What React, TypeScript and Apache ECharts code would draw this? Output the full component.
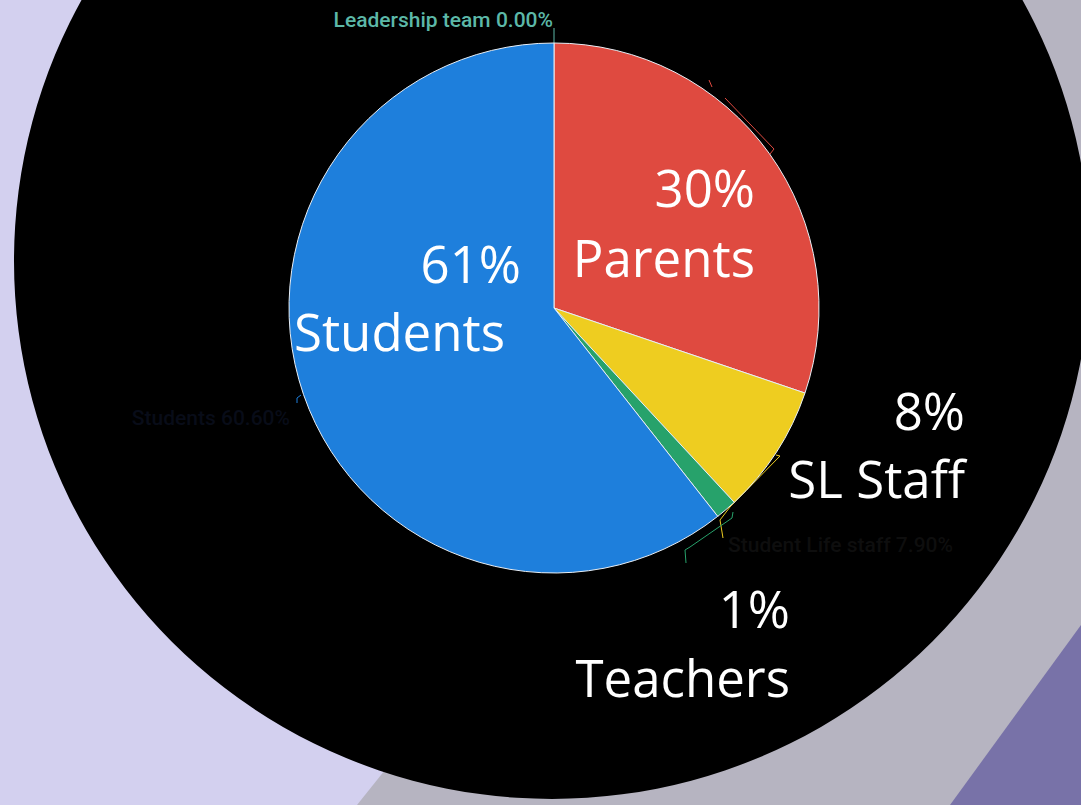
import React, { useEffect, useRef } from "react";
import * as echarts from "echarts";

// ---- data ----
const categories = ["Leadership team", "Parents", "Student Life staff", "Teachers", "Students"];
const values = [0, 30.2, 7.9, 1.3, 60.6];
const sliceColors = ["#5cb8a8", "#df4a40", "#eecd20", "#27a26b", "#1e7fdc"];
const labelColors = ["#5cb8a8", "#000000", "#0e0e0e", "#000000", "#080c18"];
const labelHidden = [false, true, false, true, false];

// overlay slide annotations
const overlayPercents = ["30%", "61%", "8%", "1%"];
const overlayNames = ["Parents", "Students", "SL Staff", "Teachers"];

// ---- layout (not data) ----
const labelLayouts = [
  { x: 553, y: 20, align: "right", line: [[554, 44], [554, 28], [554, 28]] },
  { x: 772, y: 156, align: "left", line: [[709, 80], [712, 87]] },
  { x: 728, y: 545, align: "left", line: [[776, 455], [780, 456], [730, 507], [720, 520], [723, 538]] },
  { x: 686, y: 565, align: "left", line: [[733, 512], [732, 518], [690, 547], [685, 550], [686, 563]] },
  { x: 290, y: 418, align: "right", line: [[301, 395], [297, 398], [297, 403]] },
];
const overlayPos = [
  { x: 755, y1: 187, y2: 257 },
  { x1: 521, x2: 505, y1: 263, y2: 331 },
  { x: 965, y1: 410, y2: 478 },
  { x: 790, y1: 608, y2: 677 },
];

export default function App() {
  const ref = useRef<HTMLDivElement>(null);
  useEffect(() => {
    const chart = echarts.init(ref.current!, null, { renderer: "svg" });
    const overlayFont = "51px 'Open Sans', 'Noto Sans', sans-serif";
    const overlayTexts: any[] = [];
    overlayPercents.forEach((t, i) => {
      const p: any = overlayPos[i];
      overlayTexts.push({
        type: "text",
        z: 100,
        style: { text: t, x: p.x1 ?? p.x, y: p.y1, font: overlayFont, fill: "#ffffff", textAlign: "right", textVerticalAlign: "middle" },
      });
      overlayTexts.push({
        type: "text",
        z: 100,
        style: { text: overlayNames[i], x: p.x2 ?? p.x, y: p.y2, font: overlayFont, fill: "#ffffff", textAlign: "right", textVerticalAlign: "middle" },
      });
    });

    chart.setOption({
      animation: false,
      backgroundColor: "#d3d0ef",
      graphic: [
        { type: "polygon", z: -10, shape: { points: [[357, 805], [1001, 0], [1081, 0], [1081, 805]] }, style: { fill: "#b6b4c1" } },
        { type: "polygon", z: -9, shape: { points: [[950, 805], [1081, 625], [1081, 805]] }, style: { fill: "#7872a8" } },
        { type: "circle", z: -8, shape: { cx: 552, cy: 261, r: 538 }, style: { fill: "#000000" } },
        // red label-line segment of the Parents slice
        { type: "polyline", z: 5, shape: { points: [[725, 98], [774, 149], [770, 154]] }, style: { stroke: sliceColors[1], lineWidth: 1, fill: "none" } },
        ...overlayTexts,
      ],
      series: [
        {
          type: "pie",
          center: [554, 308],
          radius: 265,
          startAngle: 90,
          clockwise: true,
          avoidLabelOverlap: false,
          silent: true,
          itemStyle: { borderColor: "#e8eef5", borderWidth: 1 },
          label: {
            show: true,
            position: "outside",
            fontFamily: "Roboto, sans-serif",
            fontSize: 21,
            fontWeight: 500,
            formatter: (p: any) =>
              labelHidden[p.dataIndex] ? " " : `${p.name} ${Number(p.percent).toFixed(2)}%`,
          },
          labelLine: { show: true, length: 10, length2: 10, lineStyle: { width: 1 } },
          labelLayout: (params: any) => {
            const L = labelLayouts[params.dataIndex];
            return {
              x: L.x,
              y: L.y,
              align: L.align,
              verticalAlign: "middle",
              labelLinePoints: L.line,
            };
          },
          data: categories.map((name, i) => ({
            name,
            value: values[i],
            itemStyle: { color: sliceColors[i] },
            label: { color: labelColors[i] },
            labelLine: { lineStyle: { color: sliceColors[i] } },
          })),
        },
      ],
    });
    return () => chart.dispose();
  }, []);
  return <div ref={ref} style={{ position: "fixed", left: 0, top: 0, width: 1081, height: 805 }} />;
}
